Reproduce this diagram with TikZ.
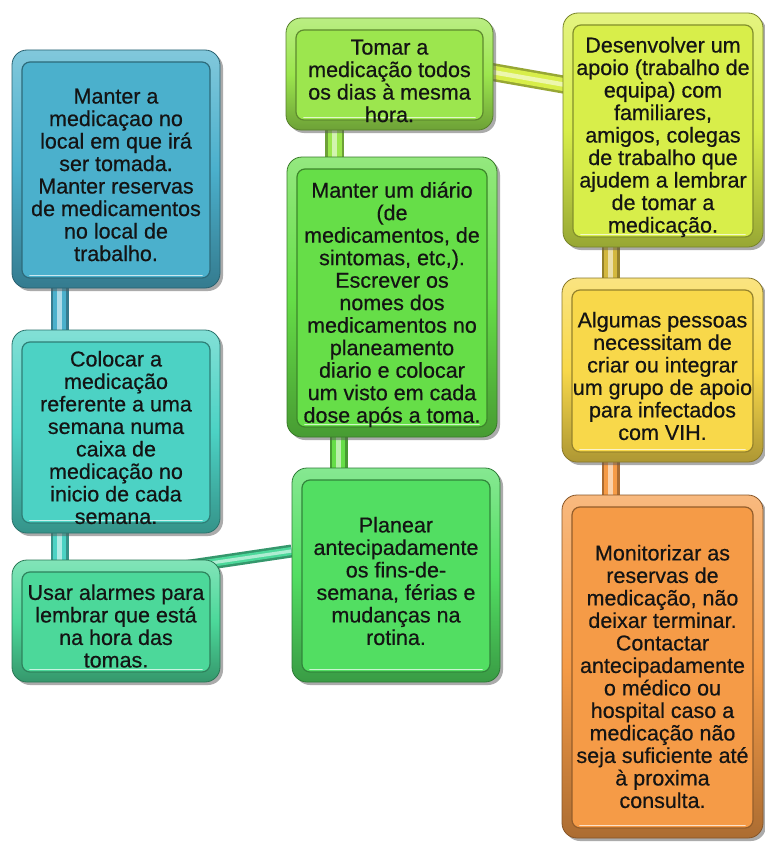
\documentclass[tikz,border=0pt]{standalone}
\usepackage{fontspec}
\setmainfont{Liberation Sans}
\newfontfamily\boxfont[FakeBold=0.5]{Liberation Sans}
\usetikzlibrary{shadows,calc}
\pgfdeclarelayer{bg}
\pgfsetlayers{bg,main}

% box colours
\definecolor{cA}{HTML}{4BB0CC}
\definecolor{cB}{HTML}{4CD2C4}
\definecolor{cC}{HTML}{4CD89A}
\definecolor{cE}{HTML}{9CE64E}
\definecolor{cF}{HTML}{66DE48}
\definecolor{cD}{HTML}{52DE62}
\definecolor{cG}{HTML}{D8EE4A}
\definecolor{cH}{HTML}{F8D84A}
\definecolor{cI}{HTML}{F59B47}
\definecolor{ink}{HTML}{141414}

\tikzset{
  panel/.style={rectangle, rounded corners=15pt, draw=#1!55!black, line width=0.8pt,
    top color=#1!70!white, bottom color=#1!70!black, middle color=#1,
    drop shadow={shadow xshift=3pt, shadow yshift=-3pt, opacity=.5, fill=black!65},
    path picture={
      \draw[rounded corners=8pt, fill=#1, draw=#1!60!black, line width=1.2pt]
        ([shift={(10pt,-12pt)}]path picture bounding box.north west) rectangle
        ([shift={(-10pt,10pt)}]path picture bounding box.south east);
      \draw[white, opacity=.7, line width=1.8pt, line cap=round]
        ([shift={(18pt,12.5pt)}]path picture bounding box.south west) --
        ([shift={(-18pt,12.5pt)}]path picture bounding box.south east);
    }},
  boxtext/.style={align=center, text=ink, inner sep=0pt,
    font=\boxfont\fontsize{21.5}{22.5}\selectfont},
  link/.style={line width=#1, draw=linkc!70!black,
    postaction={draw=linkc, line width=#1-5pt},
    postaction={draw=linkc!45!white, line width=#1/4}},
  linkcol/.code={\colorlet{linkc}{#1}}
}

\begin{document}
\begin{tikzpicture}[x=1pt, y=-1pt]
\useasboundingbox (0,0) rectangle (765,843);

% left column
\node[panel=cA, minimum width=208pt, minimum height=238pt] (boxA) at (116,169) {};
\node[boxtext] (txtA) at (116,175) {Manter a\\medicaçao no\\local em que irá\\ser tomada.\\Manter reservas\\de medicamentos\\no local de\\trabalho.};

\node[panel=cB, minimum width=208pt, minimum height=203pt] (boxB) at (116,431.5) {};
\node[boxtext] (txtB) at (116,437.5) {Colocar a\\medicação\\referente a uma\\semana numa\\caixa de\\medicação no\\inicio de cada\\semana.};

\node[panel=cC, minimum width=208pt, minimum height=122pt] (boxC) at (116,621) {};
\node[boxtext] (txtC) at (116,626) {Usar alarmes para\\lembrar que está\\na hora das\\tomas.};

% middle column
\node[panel=cE, minimum width=207pt, minimum height=112pt] (boxE) at (389.5,74) {};
\node[boxtext] (txtE) at (389.5,81) {Tomar a\\medicação todos\\os dias à mesma\\hora.};

\node[panel=cF, minimum width=210pt, minimum height=280pt] (boxF) at (392,297) {};
\node[boxtext] (txtF) at (392,304.5) {Manter um diário\\(de\\medicamentos, de\\sintomas, etc,).\\Escrever os\\nomes dos\\medicamentos no\\planeamento\\diario e colocar\\um visto em cada\\dose após a toma.};

\node[panel=cD, minimum width=208pt, minimum height=214pt] (boxD) at (396,575) {};
\node[boxtext] (txtD) at (396,581) {Planear\\antecipadamente\\os fins-de-\\semana, férias e\\mudanças na\\rotina.};

% right column
\node[panel=cG, minimum width=200pt, minimum height=234pt] (boxG) at (663,130) {};
\node[boxtext] (txtG) at (663,137) {Desenvolver um\\apoio (trabalho de\\equipa) com\\familiares,\\amigos, colegas\\de trabalho que\\ajudem a lembrar\\de tomar a\\medicação.};

\node[panel=cH, minimum width=201pt, minimum height=184pt] (boxH) at (662.5,370) {};
\node[boxtext] (txtH) at (662.5,376) {Algumas pessoas\\necessitam de\\criar ou integrar\\um grupo de apoio\\para infectados\\com VIH.};

\node[panel=cI, minimum width=201pt, minimum height=343pt] (boxI) at (662.5,666.5) {};
\node[boxtext] (txtI) at (662.5,676.5) {Monitorizar as\\reservas de\\medicação, não\\deixar terminar.\\Contactar\\antecipadamente\\o médico ou\\hospital caso a\\medicação não\\seja suficiente até\\à proxima\\consulta.};

% white page and connectors, behind the boxes
\begin{pgfonlayer}{bg}
  \fill[white] (0,0) rectangle (765,843);
  \draw[linkcol=cA, link=18pt] ($(boxA.south west)+(48,0)$) -- ($(boxB.north west)+(48,0)$);
  \draw[linkcol=cB, link=18pt] ($(boxB.south west)+(48,0)$) -- ($(boxC.north west)+(48,0)$);
  \draw[linkcol=cC, link=13pt] ($(boxC.center)+(0,-44)$) -- ($(boxD.west)+(0,-24)$);
  \draw[linkcol=cE, link=19pt] ($(boxE.south west)+(49,0)$) -- ($(boxF.north west)+(48,0)$);
  \draw[linkcol=cF, link=18pt] ($(boxF.south west)+(52,0)$) -- ($(boxD.north west)+(47,0)$);
  \draw[linkcol=cG, link=18pt] ($(boxE.center)+(0,-20)$) -- ($(boxG.center)+(0,-28)$);
  \draw[linkcol=cH!85!black, link=18pt] ($(boxG.south west)+(48,0)$) -- ($(boxH.north west)+(49,0)$);
  \draw[linkcol=cI, link=18pt] ($(boxH.south west)+(49,0)$) -- ($(boxI.north west)+(49,0)$);
\end{pgfonlayer}
\end{tikzpicture}
\end{document}
